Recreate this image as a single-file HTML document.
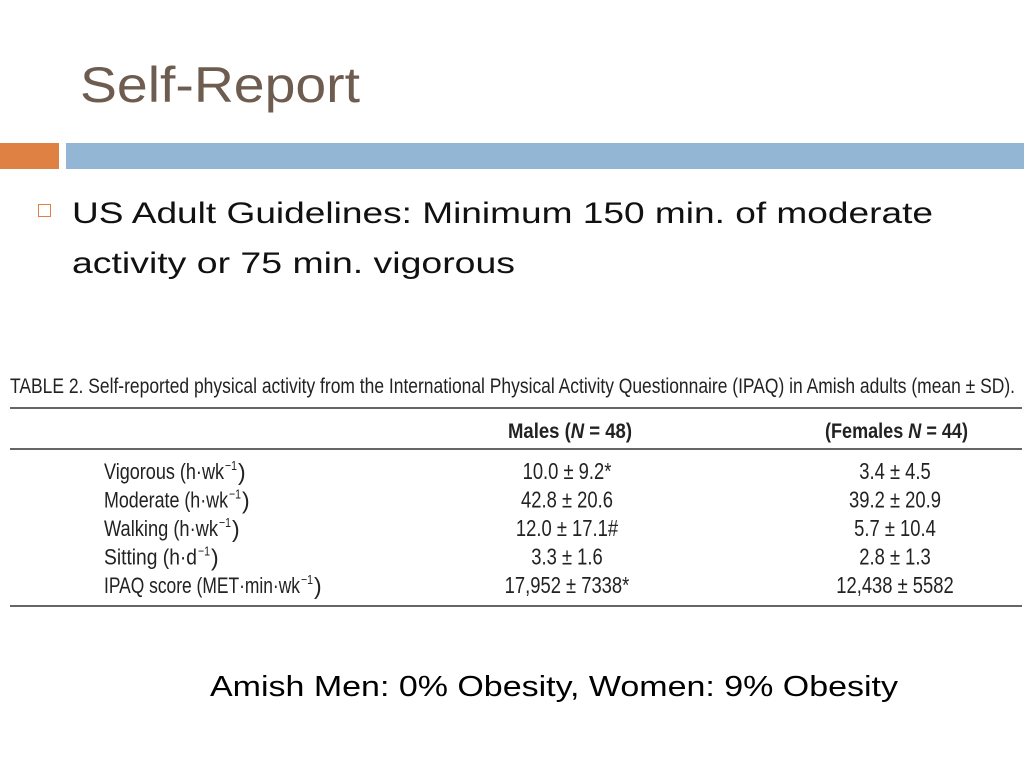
<!DOCTYPE html>
<html><head><meta charset="utf-8"><style>
html,body{margin:0;padding:0;background:#fff;}
body{width:1024px;height:768px;position:relative;overflow:hidden;font-family:"Liberation Sans",sans-serif;}
.abs{position:absolute;}
</style></head><body>
<div class="abs" style="left:0;top:143px;width:59px;height:26px;background:#df8142;"></div>
<div class="abs" style="left:66px;top:143px;width:958px;height:26px;background:#93b6d4;"></div>
<div class="abs" style="left:38px;top:204px;width:11px;height:11px;border:1.5px solid #df8142;"></div>

<svg class="abs" style="left:0;top:0" width="1024" height="768">
<g font-family="Liberation Sans, sans-serif">
<text x="80" y="102" font-size="50" fill="#6e5c50" textLength="280" lengthAdjust="spacingAndGlyphs">Self-Report</text>
<text x="72" y="223" font-size="30" fill="#111" textLength="861" lengthAdjust="spacingAndGlyphs">US Adult Guidelines: Minimum 150 min. of moderate</text>
<text x="72" y="273" font-size="30" fill="#111" textLength="443" lengthAdjust="spacingAndGlyphs">activity or 75 min. vigorous</text>
<text x="210" y="696" font-size="29" fill="#000" textLength="688" lengthAdjust="spacingAndGlyphs">Amish Men: 0% Obesity, Women: 9% Obesity</text>
</g>
<g font-family="Liberation Sans, sans-serif" fill="#222" font-size="21">
<text x="10" y="393" textLength="1005" lengthAdjust="spacingAndGlyphs">TABLE 2. Self-reported physical activity from the International Physical Activity Questionnaire (IPAQ) in Amish adults (mean ± SD).</text>
<line x1="10" y1="408" x2="1022" y2="408" stroke="#333" stroke-width="1.5"/>
<text x="508" y="438" textLength="124" lengthAdjust="spacingAndGlyphs" font-weight="bold">Males (<tspan font-style="italic">N</tspan> = 48)</text>
<text x="825" y="438" textLength="143" lengthAdjust="spacingAndGlyphs" font-weight="bold">(Females <tspan font-style="italic">N</tspan> = 44)</text>
<line x1="10" y1="449" x2="1022" y2="449" stroke="#333" stroke-width="1.5"/>
<g id="rows"></g>
<line x1="10" y1="606" x2="1022" y2="606" stroke="#333" stroke-width="1.5"/>
</g>
</svg>

<script>
const labels=["Vigorous (h·wk","Moderate (h·wk","Walking (h·wk","Sitting (h·d","IPAQ score (MET·min·wk"];
const labelWidths=[120,124,114,93,196];
const males=["10.0 ± 9.2*","42.8 ± 20.6","12.0 ± 17.1#","3.3 ± 1.6","17,952 ± 7338*"];
const females=["3.4 ± 4.5","39.2 ± 20.9","5.7 ± 10.4","2.8 ± 1.3","12,438 ± 5582"];
const g=document.getElementById('rows');
const ns="http://www.w3.org/2000/svg";
labels.forEach((l,i)=>{
  const y=479+i*28.5;
  const t=document.createElementNS(ns,'text');
  
  
  t.setAttribute('x',104);t.setAttribute('y',y);t.setAttribute('font-size','22');
  t.setAttribute('textLength',labelWidths[i]);t.setAttribute('lengthAdjust','spacingAndGlyphs');
  t.textContent=l;
  g.appendChild(t);
  const s=document.createElementNS(ns,'text');
  
  
  s.setAttribute('x',104+labelWidths[i]+1);s.setAttribute('y',y-9);s.setAttribute('font-size','13');
  s.setAttribute('textLength','12');s.setAttribute('lengthAdjust','spacingAndGlyphs');
  s.textContent='−1';
  g.appendChild(s);
  const p=document.createElementNS(ns,'text');
  
  
  p.setAttribute('x',104+labelWidths[i]+14);p.setAttribute('y',y+1);p.setAttribute('font-size','23');
  p.textContent=')';
  g.appendChild(p);
  [[males,567],[females,895]].forEach(([arr,cx])=>{
    const v=document.createElementNS(ns,'text');
    
    
    v.setAttribute('x',cx);v.setAttribute('y',y);v.setAttribute('text-anchor','middle');v.setAttribute('font-size','23');
    v.setAttribute('transform',`translate(${cx*0.2},0) scale(0.8,1)`);
    v.textContent=arr[i];
    g.appendChild(v);
  });
});
</script>
</body></html>
